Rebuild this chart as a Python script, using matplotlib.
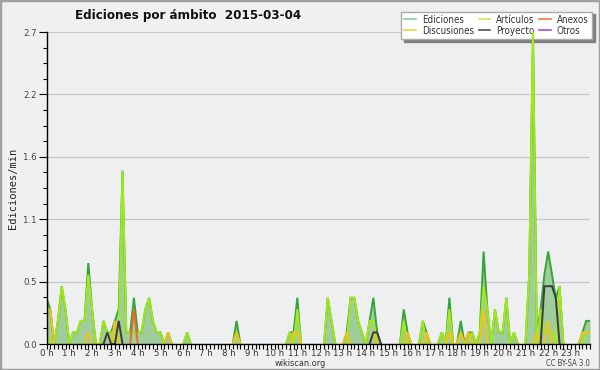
import numpy as np
import matplotlib
matplotlib.use("Agg")
import matplotlib.pyplot as plt
from matplotlib.ticker import MultipleLocator, FixedLocator
from matplotlib.patches import Rectangle
from matplotlib.lines import Line2D
from matplotlib import font_manager

# 10-minute bins, one row per hour (edits per minute)
ediciones = [
    0.4, 0.3, 0.0, 0.2, 0.5, 0.3,
    0.0, 0.1, 0.1, 0.2, 0.2, 0.7,
    0.3, 0.0, 0.0, 0.2, 0.1, 0.1,
    0.2, 0.3, 1.5, 0.1, 0.1, 0.4,
    0.1, 0.1, 0.3, 0.4, 0.2, 0.1,
    0.1, 0.0, 0.1, 0.0, 0.0, 0.0,
    0.0, 0.1, 0.0, 0.0, 0.0, 0.0,
    0.0, 0.0, 0.0, 0.0, 0.0, 0.0,
    0.0, 0.0, 0.2, 0.0, 0.0, 0.0,
    0.0, 0.0, 0.0, 0.0, 0.0, 0.0,
    0.0, 0.0, 0.0, 0.0, 0.1, 0.1,
    0.4, 0.0, 0.0, 0.0, 0.0, 0.0,
    0.0, 0.0, 0.4, 0.2, 0.0, 0.0,
    0.0, 0.1, 0.4, 0.4, 0.2, 0.1,
    0.0, 0.2, 0.4, 0.1, 0.0, 0.0,
    0.0, 0.0, 0.0, 0.0, 0.3, 0.1,
    0.0, 0.0, 0.0, 0.2, 0.1, 0.0,
    0.0, 0.0, 0.1, 0.0, 0.4, 0.0,
    0.0, 0.2, 0.0, 0.1, 0.1, 0.0,
    0.1, 0.8, 0.3, 0.0, 0.3, 0.1,
    0.1, 0.4, 0.0, 0.1, 0.0, 0.0,
    0.0, 0.6, 2.7, 0.1, 0.3, 0.6,
    0.8, 0.6, 0.4, 0.5, 0.0, 0.0,
    0.0, 0.0, 0.0, 0.1, 0.2, 0.2,
]
articulos = [
    0.1, 0.0, 0.0, 0.2, 0.5, 0.3,
    0.0, 0.1, 0.1, 0.2, 0.2, 0.6,
    0.3, 0.0, 0.0, 0.2, 0.1, 0.1,
    0.0, 0.1, 1.5, 0.1, 0.1, 0.1,
    0.1, 0.1, 0.3, 0.4, 0.2, 0.1,
    0.1, 0.0, 0.0, 0.0, 0.0, 0.0,
    0.0, 0.1, 0.0, 0.0, 0.0, 0.0,
    0.0, 0.0, 0.0, 0.0, 0.0, 0.0,
    0.0, 0.0, 0.1, 0.0, 0.0, 0.0,
    0.0, 0.0, 0.0, 0.0, 0.0, 0.0,
    0.0, 0.0, 0.0, 0.0, 0.1, 0.0,
    0.3, 0.0, 0.0, 0.0, 0.0, 0.0,
    0.0, 0.0, 0.4, 0.2, 0.0, 0.0,
    0.0, 0.0, 0.4, 0.4, 0.2, 0.1,
    0.0, 0.2, 0.2, 0.0, 0.0, 0.0,
    0.0, 0.0, 0.0, 0.0, 0.2, 0.0,
    0.0, 0.0, 0.0, 0.2, 0.0, 0.0,
    0.0, 0.0, 0.1, 0.0, 0.3, 0.0,
    0.0, 0.1, 0.0, 0.0, 0.1, 0.0,
    0.1, 0.5, 0.3, 0.0, 0.3, 0.1,
    0.1, 0.4, 0.0, 0.1, 0.0, 0.0,
    0.0, 0.6, 2.7, 0.0, 0.3, 0.1,
    0.1, 0.1, 0.0, 0.5, 0.0, 0.0,
    0.0, 0.0, 0.0, 0.0, 0.1, 0.1,
]
discusiones = [
    0.3, 0.3, 0.0, 0.0, 0.0, 0.0,
    0.0, 0.0, 0.0, 0.0, 0.0, 0.1,
    0.0, 0.0, 0.0, 0.0, 0.0, 0.0,
    0.2, 0.0, 0.0, 0.0, 0.0, 0.0,
    0.0, 0.0, 0.0, 0.0, 0.0, 0.0,
    0.0, 0.0, 0.1, 0.0, 0.0, 0.0,
    0.0, 0.0, 0.0, 0.0, 0.0, 0.0,
    0.0, 0.0, 0.0, 0.0, 0.0, 0.0,
    0.0, 0.0, 0.1, 0.0, 0.0, 0.0,
    0.0, 0.0, 0.0, 0.0, 0.0, 0.0,
    0.0, 0.0, 0.0, 0.0, 0.0, 0.1,
    0.1, 0.0, 0.0, 0.0, 0.0, 0.0,
    0.0, 0.0, 0.0, 0.0, 0.0, 0.0,
    0.0, 0.1, 0.0, 0.0, 0.0, 0.0,
    0.0, 0.0, 0.1, 0.0, 0.0, 0.0,
    0.0, 0.0, 0.0, 0.0, 0.0, 0.1,
    0.0, 0.0, 0.0, 0.0, 0.1, 0.0,
    0.0, 0.0, 0.0, 0.0, 0.1, 0.0,
    0.0, 0.1, 0.0, 0.1, 0.0, 0.0,
    0.0, 0.3, 0.0, 0.0, 0.0, 0.0,
    0.0, 0.0, 0.0, 0.0, 0.0, 0.0,
    0.0, 0.0, 0.0, 0.1, 0.0, 0.0,
    0.2, 0.0, 0.0, 0.0, 0.0, 0.0,
    0.0, 0.0, 0.0, 0.1, 0.1, 0.1,
]
anexos = [
    0.0, 0.0, 0.0, 0.0, 0.0, 0.0,
    0.0, 0.0, 0.0, 0.0, 0.0, 0.0,
    0.0, 0.0, 0.0, 0.0, 0.0, 0.0,
    0.0, 0.0, 0.0, 0.0, 0.0, 0.3,
] + [0.0] * 120
proyecto = [
    0.0, 0.0, 0.0, 0.0, 0.0, 0.0,
    0.0, 0.0, 0.0, 0.0, 0.0, 0.0,
    0.0, 0.0, 0.0, 0.0, 0.1, 0.0,
    0.0, 0.2, 0.0, 0.0, 0.0, 0.0,
    0.0, 0.0, 0.0, 0.0, 0.0, 0.0,
    0.0, 0.0, 0.0, 0.0, 0.0, 0.0,
    0.0, 0.0, 0.0, 0.0, 0.0, 0.0,
    0.0, 0.0, 0.0, 0.0, 0.0, 0.0,
    0.0, 0.0, 0.0, 0.0, 0.0, 0.0,
    0.0, 0.0, 0.0, 0.0, 0.0, 0.0,
    0.0, 0.0, 0.0, 0.0, 0.0, 0.0,
    0.0, 0.0, 0.0, 0.0, 0.0, 0.0,
    0.0, 0.0, 0.0, 0.0, 0.0, 0.0,
    0.0, 0.0, 0.0, 0.0, 0.0, 0.0,
    0.0, 0.0, 0.1, 0.1, 0.0, 0.0,
    0.0, 0.0, 0.0, 0.0, 0.0, 0.0,
    0.0, 0.0, 0.0, 0.0, 0.0, 0.0,
    0.0, 0.0, 0.0, 0.0, 0.0, 0.0,
    0.0, 0.0, 0.0, 0.0, 0.0, 0.0,
    0.0, 0.0, 0.0, 0.0, 0.0, 0.0,
    0.0, 0.0, 0.0, 0.0, 0.0, 0.0,
    0.0, 0.0, 0.0, 0.0, 0.0, 0.5,
    0.5, 0.5, 0.4, 0.0, 0.0, 0.0,
    0.0, 0.0, 0.0, 0.0, 0.0, 0.0,
]
otros = [0.0] * 144

hour_labels = [f"{h} h" for h in range(24)]
y_ticks = [0.0, 0.54, 1.08, 1.62, 2.16, 2.7]
y_tick_labels = ["0.0", "0.5", "1.1", "1.6", "2.2", "2.7"]

series = [
    ("Ediciones", ediciones, "#36a436"),
    ("Discusiones", discusiones, "#f2c21a"),
    ("Artículos", articulos, "#a4e817"),
    ("Proyecto", proyecto, "#3c3c3c"),
    ("Anexos", anexos, "#ee6a2a"),
    ("Otros", otros, "#9a3be0"),
]
legend_colors = {"Ediciones": "#8ccf8c", "Discusiones": "#f5cf45", "Artículos": "#c4ef55",
                 "Proyecto": "#555555", "Anexos": "#ee7a48", "Otros": "#a050e8"}
draw_order = ["Ediciones", "Artículos", "Discusiones", "Anexos", "Proyecto", "Otros"]

COND = dict(family="DejaVu Sans", stretch="condensed")

W, H = 600, 370
fig = plt.figure(figsize=(W / 100, H / 100), dpi=100, facecolor="#f0f0f0")
ax = fig.add_axes([46.5 / W, 1 - 344 / H, (590 - 46.5) / W, (344 - 32) / H])
ax.set_facecolor("#eeeff1")

x = np.arange(144)
ax.fill_between(x, np.array(ediciones), 0, color="#9fcd9c", lw=0, zorder=1)

def masked(vals):
    v = np.array(vals, dtype=float)
    prev = np.r_[0.0, v[:-1]]
    nxt = np.r_[v[1:], 0.0]
    return np.ma.masked_where((v == 0) & (prev == 0) & (nxt == 0), v)

lookup = {n: (vals, c) for n, vals, c in series}
for n in draw_order:
    vals, c = lookup[n]
    ax.plot(x, masked(vals), color=c, lw=1.4, zorder=2, solid_joinstyle="miter")

ax.set_xlim(0, 143)
ax.set_ylim(0, 2.7)
ax.xaxis.set_major_locator(FixedLocator(list(range(0, 144, 6))))
ax.set_xticklabels(hour_labels, fontproperties=font_manager.FontProperties(size=6.8, **COND))
ax.xaxis.set_minor_locator(MultipleLocator(1))
ax.yaxis.set_major_locator(FixedLocator(y_ticks))
ax.set_yticklabels(y_tick_labels, fontproperties=font_manager.FontProperties(size=6.8, **COND))
ax.yaxis.set_minor_locator(FixedLocator([0.135 * k for k in range(21)]))
ax.tick_params(axis="x", which="both", length=3.5, width=0.8, direction="out",
               labelcolor="#333333", pad=0.3)
ax.tick_params(axis="y", which="major", length=6, width=0.8, direction="out",
               labelcolor="#444444", pad=1)
ax.tick_params(axis="y", which="minor", length=3, width=0.8, direction="out")
for s in ("top", "right"):
    ax.spines[s].set_visible(False)
for s in ("left", "bottom"):
    ax.spines[s].set_linewidth(1.0)
    ax.spines[s].set_zorder(3)
ax.grid(axis="y", which="major", color="#c8c8c8", lw=0.9, zorder=0)
ax.set_axisbelow(True)

ax.set_ylabel("Ediciones/min", family="DejaVu Sans Mono", fontsize=7.5,
              color="#222222", labelpad=4)

handles = [Line2D([], [], color=legend_colors[n], lw=1.2) for n, _, _ in series]
labels = [n for n, _, _ in series]
leg = ax.legend(handles, labels, ncol=3, loc="upper right",
                bbox_to_anchor=(592 / W, 1 - 11.5 / H), bbox_transform=fig.transFigure,
                prop=font_manager.FontProperties(size=7.0, **COND),
                frameon=True, fancybox=False, edgecolor="#aaaaaa",
                facecolor="white", framealpha=1, handlelength=1.2, handletextpad=0.6,
                columnspacing=0.5, labelspacing=0.1, borderpad=0.35, borderaxespad=0,
                shadow={"color": "#808080", "alpha": 1})
for t in leg.get_texts():
    t.set_color("#333333")
leg.set_zorder(1.5)

fig.text(188 / W, 1 - 15 / H, "Ediciones por ámbito  2015-03-04", ha="center",
         va="center", fontsize=9.5, weight="bold", color="#111111", **COND)
fig.text(300 / W, 1 - 364 / H, "wikiscan.org", ha="center", va="center",
         fontsize=6.6, color="#333333", **COND)
fig.text(590 / W, 1 - 363.5 / H, "CC BY-SA 3.0", ha="right", va="center",
         fontsize=5.5, color="#444444", **COND)
fig.patches.append(Rectangle((0, 0), 1, 1, transform=fig.transFigure, fill=False,
                             edgecolor="#a0a0a0", lw=2.5))

fig.savefig("out.png", dpi=100, facecolor=fig.get_facecolor())
